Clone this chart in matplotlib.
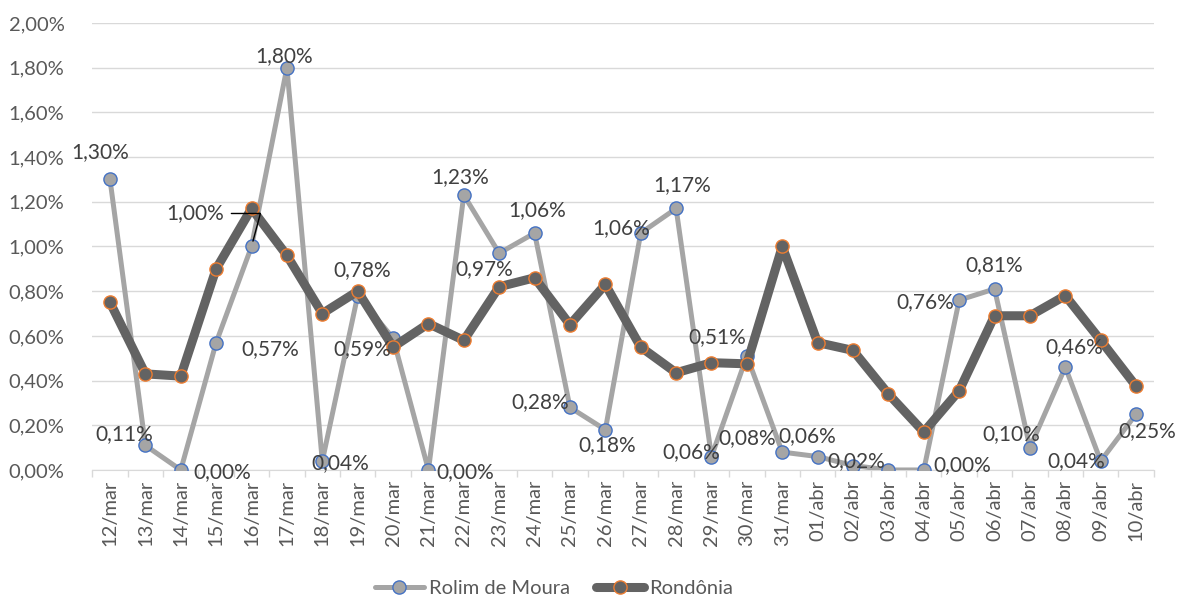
import numpy as np
import matplotlib
matplotlib.use("Agg")
import matplotlib.pyplot as plt
from matplotlib.ticker import FuncFormatter, FixedLocator

plt.rcParams['font.family'] = ['Lato', 'DejaVu Sans']

# dates (categories)
dias = ['12/mar', '13/mar', '14/mar', '15/mar', '16/mar', '17/mar', '18/mar', '19/mar',
        '20/mar', '21/mar', '22/mar', '23/mar', '24/mar', '25/mar', '26/mar', '27/mar',
        '28/mar', '29/mar', '30/mar', '31/mar', '01/abr', '02/abr', '03/abr', '04/abr',
        '05/abr', '06/abr', '07/abr', '08/abr', '09/abr', '10/abr']

# values in percent
rolim = [1.30, 0.11, 0.00, 0.57, 1.00, 1.80, 0.04, 0.78, 0.59, 0.00,
         1.23, 0.97, 1.06, 0.28, 0.18, 1.06, 1.17, 0.06, 0.51, 0.08,
         0.06, 0.02, 0.00, 0.00, 0.76, 0.81, 0.10, 0.46, 0.04, 0.25]
rondonia = [0.75, 0.43, 0.42, 0.90, 1.17, 0.96, 0.70, 0.80, 0.55, 0.655,
            0.58, 0.82, 0.86, 0.65, 0.83, 0.55, 0.435, 0.48, 0.475, 1.00,
            0.57, 0.535, 0.34, 0.17, 0.355, 0.69, 0.69, 0.78, 0.58, 0.375]

# data label offsets (pixels) for Rolim de Moura, None = no label
lab_off = [(-10, 27), (-21, 11), (41, -2), (54, -7), (-56, 33), (-3, 12), (18, -2),
           (5, 26), (-31, -11), (37, -2), (-4, 18), (-15, -16), (3, 23), (-30, 5),
           (2, -15), (-20, 5), (6, 23), (-20, 4), (-30, 19), (-35, 14), (-10, 20),
           (3, 4), None, (38, 5), (-34, -2), (0, 24), (-19, 14), (9, 20), (-24, 0),
           (11, -17)]

grid_c = '#D9D9D9'
txt_c = '#595959'

fig = plt.figure(figsize=(11.79, 5.99), dpi=100)
ax = fig.add_axes([0.0783, 0.2154, 0.9003, 0.7462])

x = np.arange(len(dias))
ax.plot(x, rolim, color='#A5A5A5', lw=3.6, marker='o', ms=9.5,
        mfc='#A5A5A5', mec='#4472C4', mew=1.0, label='Rolim de Moura', zorder=3,
        solid_capstyle='round')
ax.plot(x, rondonia, color='#636363', lw=6.5, marker='o', ms=9.5,
        mfc='#636363', mec='#ED7D31', mew=1.0, label='Rondônia', zorder=4,
        solid_capstyle='round', solid_joinstyle='round')

for i, v in enumerate(rolim):
    off = lab_off[i]
    if off is None:
        continue
    txt = f'{v:.2f}%'.replace('.', ',')
    if i == 4:
        ax.annotate(txt, xy=(i, v), xytext=off, textcoords='offset pixels',
                    ha='center', va='center', fontsize=15, color='#404040', zorder=6,
                    arrowprops=dict(arrowstyle='-', color='black', lw=1,
                                    shrinkA=3, shrinkB=4,
                                    connectionstyle='angle,angleA=0,angleB=75,rad=0',
                                    relpos=(1.0, 0.5)))
    else:
        ax.annotate(txt, xy=(i, v), xytext=off, textcoords='offset pixels',
                    ha='center', va='center', fontsize=15, color='#404040', zorder=6)

ax.set_xlim(-0.5, len(dias) - 0.5)
ax.set_ylim(0, 2.0)
ax.set_yticks(np.arange(0, 2.01, 0.2))
ax.yaxis.set_major_formatter(FuncFormatter(lambda v, p: f'{v:.2f}%'.replace('.', ',')))
ax.set_xticks(x)
ax.set_xticklabels(dias, rotation=90)
ax.xaxis.set_minor_locator(FixedLocator(np.arange(-0.5, len(dias), 1)))
ax.tick_params(axis='x', which='major', length=0, pad=7, labelsize=14.5, labelcolor=txt_c)
ax.tick_params(axis='x', which='minor', length=5, color=grid_c, width=1)
ax.tick_params(axis='y', length=0, pad=20, labelsize=14.5, labelcolor=txt_c)

ax.grid(axis='y', color=grid_c, lw=1)
ax.set_axisbelow(True)
for s in ['top', 'right', 'left']:
    ax.spines[s].set_visible(False)
ax.spines['bottom'].set_color(grid_c)

leg = fig.legend(loc='center', bbox_to_anchor=(0.47, 0.018), ncol=2, frameon=False,
                 fontsize=14.5, handlelength=2.4, handletextpad=0.25, columnspacing=1.3)
for t in leg.get_texts():
    t.set_color(txt_c)

fig.savefig('out.png', dpi=100)
